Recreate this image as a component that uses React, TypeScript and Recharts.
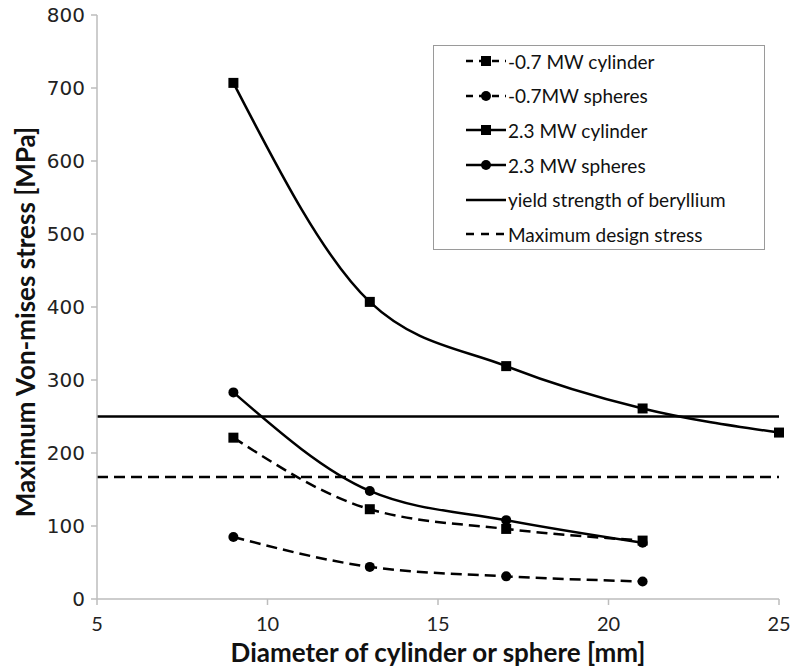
import {
  LineChart,
  Line,
  XAxis,
  YAxis,
  ReferenceLine,
} from "recharts";

const diameters = [9, 13, 17, 21, 25];
const cylinder07 = [221, 123, 96, 80, null];
const spheres07 = [85, 44, 31, 24, null];
const cylinder23 = [707, 407, 319, 261, 228];
const spheres23 = [283, 148, 108, 77, null];

const yieldStrength = 250;
const designStress = 167;

const xTicks = [5, 10, 15, 20, 25];
const yTicks = [0, 100, 200, 300, 400, 500, 600, 700, 800];

const legendNames = [
  "-0.7 MW cylinder",
  "-0.7MW spheres",
  "2.3 MW cylinder",
  "2.3 MW spheres",
  "yield strength of beryllium",
  "Maximum design stress",
];

const data = diameters.map((d, i) => ({
  d,
  cyl07: cylinder07[i],
  sph07: spheres07[i],
  cyl23: cylinder23[i],
  sph23: spheres23[i],
}));

const DASH = "11 6";

const squareDot = (p: any) => {
  if (p.cy == null || p.value == null) return <g key={p.index} />;
  return (
    <rect
      key={p.index}
      x={p.cx - 5}
      y={p.cy - 5}
      width={10}
      height={10}
      fill="#000"
    />
  );
};

const circleDot = (p: any) => {
  if (p.cy == null || p.value == null) return <g key={p.index} />;
  return <circle key={p.index} cx={p.cx} cy={p.cy} r={5} fill="#000" />;
};

// legend icon kinds, same order as legendNames
const legendIcons = [
  { dashed: true, marker: "square" },
  { dashed: true, marker: "circle" },
  { dashed: false, marker: "square" },
  { dashed: false, marker: "circle" },
  { dashed: false, marker: "" },
  { dashed: true, marker: "" },
];

function LegendBox() {
  return (
    <div
      style={{
        position: "absolute",
        left: 433,
        top: 45,
        border: "1.5px solid #9a9a9a",
        background: "#fff",
        boxSizing: "border-box",
        width: 332,
        height: 205,
        paddingTop: 0,
      }}
    >
      {legendNames.map((name, i) => {
        const icon = legendIcons[i];
        let dash: string | undefined = undefined;
        if (icon.dashed) dash = icon.marker ? "7 6" : "8 7";
        return (
          <div
            key={name}
            style={{
              display: "flex",
              alignItems: "center",
              height: 34.6,
              marginTop: i === 0 ? -2 : 0,
              paddingLeft: 32,
            }}
          >
            <svg width={42} height={14}>
              <line
                x1={0}
                x2={40}
                y1={7}
                y2={7}
                stroke="#000"
                strokeWidth={2.5}
                strokeDasharray={dash}
              />
              {icon.marker === "square" && (
                <rect x={15} y={2} width={10} height={10} fill="#000" />
              )}
              {icon.marker === "circle" && (
                <circle cx={20} cy={7} r={5} fill="#000" />
              )}
            </svg>
            <span
              style={{
                fontFamily: "Lato",
                fontSize: 19,
                color: "#111",
                marginLeft: 0,
              }}
            >
              {name}
            </span>
          </div>
        );
      })}
    </div>
  );
}

const yTitle = (props: any) => {
  const vb = props.viewBox;
  const cx = 25;
  const cy = vb.y + vb.height / 2 + 15;
  return (
    <text
      x={cx}
      y={cy}
      transform={`rotate(-90 ${cx} ${cy})`}
      textAnchor="middle"
      dominantBaseline="central"
      fill="#111"
      fontFamily="Lato"
      fontWeight={700}
      fontSize={26}
    >
      Maximum Von-mises stress [MPa]
    </text>
  );
};

export default function App() {
  return (
    <div style={{ position: "absolute", left: 0, top: 0, width: 792, height: 668 }}>
      <LineChart
        width={792}
        height={668}
        data={data}
        margin={{ top: 15, right: 13, bottom: 0, left: 1 }}
      >
        <XAxis
          dataKey="d"
          type="number"
          domain={[5, 25]}
          ticks={xTicks}
          stroke="#bdbdbd"
          strokeWidth={1.5}
          tickSize={6}
          tickMargin={12}
          height={69}
          tick={{ fill: "#222", fontFamily: "Lato", fontSize: 20 }}
          label={{
            value: "Diameter of cylinder or sphere [mm]",
            position: "insideBottom",
            offset: 6,
            fill: "#111",
            fontFamily: "Lato",
            fontWeight: 700,
            fontSize: 26,
          }}
        />
        <YAxis
          type="number"
          domain={[0, 800]}
          ticks={yTicks}
          stroke="#bdbdbd"
          strokeWidth={1.5}
          tickSize={6}
          tickMargin={6}
          width={96}
          tick={{ fill: "#222", fontFamily: "DejaVu Sans", fontSize: 20 }}
          label={{ content: yTitle }}
        />
        <ReferenceLine y={yieldStrength} stroke="#000" strokeWidth={2.5} />
        <ReferenceLine
          y={designStress}
          stroke="#000"
          strokeWidth={2.5}
          strokeDasharray={DASH}
        />
        <Line
          dataKey="cyl07"
          type="monotone"
          stroke="#000"
          strokeWidth={2.5}
          strokeDasharray={DASH}
          dot={squareDot}
          activeDot={false}
          isAnimationActive={false}
        />
        <Line
          dataKey="sph07"
          type="monotone"
          stroke="#000"
          strokeWidth={2.5}
          strokeDasharray={DASH}
          dot={circleDot}
          activeDot={false}
          isAnimationActive={false}
        />
        <Line
          dataKey="cyl23"
          type="monotone"
          stroke="#000"
          strokeWidth={2.5}
          dot={squareDot}
          activeDot={false}
          isAnimationActive={false}
        />
        <Line
          dataKey="sph23"
          type="monotone"
          stroke="#000"
          strokeWidth={2.5}
          dot={circleDot}
          activeDot={false}
          isAnimationActive={false}
        />
      </LineChart>
      <LegendBox />
    </div>
  );
}
